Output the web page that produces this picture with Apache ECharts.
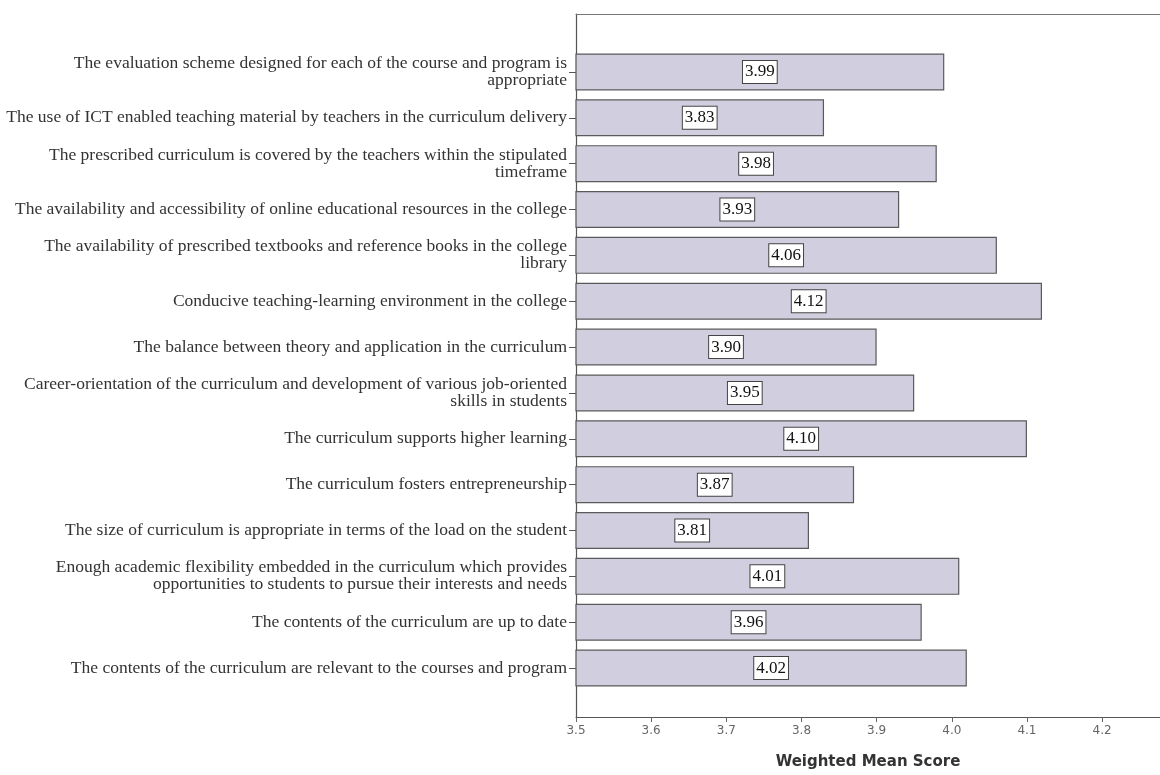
<!DOCTYPE html>
<html><head><meta charset="utf-8">
<script src="https://cdn.jsdelivr.net/npm/echarts@6/dist/echarts.min.js"></script>
<style>html,body{margin:0;padding:0;background:#fff}#c{width:1160px;height:775px}</style>
</head><body><div id="c"></div>
<script>
const categories = [
  "The evaluation scheme designed for each of the course and program is\nappropriate",
  "The use of ICT enabled teaching material by teachers in the curriculum delivery",
  "The prescribed curriculum is covered by the teachers within the stipulated\ntimeframe",
  "The availability and accessibility of online educational resources in the college",
  "The availability of prescribed textbooks and reference books in the college\nlibrary",
  "Conducive teaching-learning environment in the college",
  "The balance between theory and application in the curriculum",
  "Career-orientation of the curriculum and development of various job-oriented\nskills in students",
  "The curriculum supports higher learning",
  "The curriculum fosters entrepreneurship",
  "The size of curriculum is appropriate in terms of the load on the student",
  "Enough academic flexibility embedded in the curriculum which provides\nopportunities to students to pursue their interests and needs",
  "The contents of the curriculum are up to date",
  "The contents of the curriculum are relevant to the courses and program"
];
const scores = [3.99, 3.83, 3.98, 3.93, 4.06, 4.12, 3.90, 3.95, 4.10, 3.87, 3.81, 4.01, 3.96, 4.02];
const tickLabels = ["3.5","3.6","3.7","3.8","3.9","4.0","4.1","4.2"];
const axisTitle = "Weighted Mean Score";

const XMIN = 3.5, XMAX = 4.277;
const chart = echarts.init(document.getElementById('c'));
chart.setOption({
  animation: false,
  backgroundColor: '#fff',
  grid: [
    {left: 576, right: 0, top: 14, bottom: 49},
    {left: 576, right: 0, top: 49, bottom: 84}
  ],
  xAxis: [
    {
      gridIndex: 0, type: 'value', min: XMIN, max: XMAX, interval: 0.1, position: 'bottom',
      axisLine: {show: true, lineStyle: {color: '#555', width: 1.2}},
      axisTick: {show: true, length: 5, lineStyle: {color: '#666'}},
      splitLine: {show: false},
      axisLabel: {
        color: '#666', fontFamily: 'DejaVu Sans', fontSize: 12, margin: 8,
        showMaxLabel: false,
        formatter: function (v) { const s = v.toFixed(1); return tickLabels.indexOf(s) >= 0 ? s : ''; }
      },
      name: axisTitle, nameLocation: 'middle', nameGap: 38,
      nameTextStyle: {color: '#333', fontFamily: 'DejaVu Sans', fontSize: 15, fontWeight: 'bold'}
    },
    {
      gridIndex: 0, type: 'value', min: XMIN, max: XMAX, position: 'top',
      axisLine: {show: true, lineStyle: {color: '#777', width: 1}},
      axisTick: {show: false}, axisLabel: {show: false}, splitLine: {show: false}
    },
    {
      gridIndex: 1, type: 'value', min: XMIN, max: XMAX, show: false
    }
  ],
  yAxis: [
    {
      gridIndex: 0, type: 'value', min: 0, max: 1,
      axisLine: {show: true, lineStyle: {color: '#555', width: 1.2}},
      axisTick: {show: false}, axisLabel: {show: false}, splitLine: {show: false}
    },
    {
      gridIndex: 1, type: 'category', data: categories, inverse: true,
      axisLine: {show: false},
      axisTick: {show: true, alignWithLabel: true, length: 7, lineStyle: {color: '#555'}},
      axisLabel: {
        color: '#333', fontFamily: 'Liberation Serif', fontSize: 17.5, lineHeight: 17,
        align: 'right', margin: 9
      }
    }
  ],
  series: [{
    type: 'bar', xAxisIndex: 2, yAxisIndex: 1, data: scores, barWidth: 37,
    itemStyle: {color: '#d0cedf', borderColor: '#5a5a5a', borderWidth: 1.2},
    label: {
      show: true, position: 'inside', formatter: function (p) { return p.value.toFixed(2); },
      color: '#111', fontFamily: 'Liberation Serif', fontSize: 17,
      backgroundColor: '#fff', borderColor: '#444', borderWidth: 1, padding: [3, 2, 2, 2]
    }
  }]
});
</script></body></html>
